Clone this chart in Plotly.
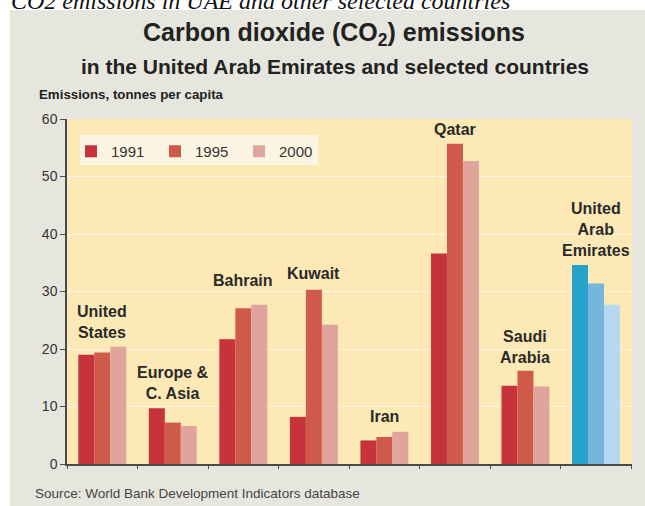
import plotly.graph_objects as go

countries = ["United<br>States", "Europe &<br>C. Asia", "Bahrain", "Kuwait",
             "Iran", "Qatar", "Saudi<br>Arabia", "United<br>Arab<br>Emirates"]
years = ["1991", "1995", "2000"]
em_1991 = [19.0, 9.7, 21.7, 8.2, 4.1, 36.6, 13.6, 34.6]
em_1995 = [19.4, 7.2, 27.1, 30.3, 4.7, 55.7, 16.2, 31.4]
em_2000 = [20.4, 6.6, 27.7, 24.2, 5.6, 52.7, 13.5, 27.7]
y_ticks = [0, 10, 20, 30, 40, 50, 60]

# red shades for every country, blue shades for the UAE
reds = ["#c6333a", "#cf5a4b", "#dfa59d"]
blues = ["#26a3cb", "#76b5dc", "#b5d9f0"]
label_lift = [6, 6, 16, 8, 7, 6, 5, 6]

W, H = 645, 506
L, R, T, B = 67, 13, 119, 42
pw, ph = W - L - R, H - T - B


def px(x):
    return (x - L) / pw


def py(y):
    return (H - B - y) / ph


fig = go.Figure()
for i, (yr, vals) in enumerate(zip(years, [em_1991, em_1995, em_2000])):
    cols = [reds[i]] * (len(countries) - 1) + [blues[i]]
    fig.add_trace(go.Bar(x=countries, y=vals, name=yr,
                         marker=dict(color=cols, line=dict(width=0))))

anns = []
for c, a, b, d, lift in zip(countries, em_1991, em_1995, em_2000, label_lift):
    anns.append(dict(x=c, y=max(a, b, d), xref="x", yref="y",
                     text="<b>" + c.replace("<br>", "</b><br><b>") + "</b>",
                     showarrow=False, yanchor="bottom", yshift=lift - 2,
                     font=dict(family="Liberation Sans, Arial", size=16, color="#2a2a2a")))

anns += [
    dict(x=px(9), y=py(1), xref="paper", yref="paper", xanchor="left", yanchor="middle",
         text="<i>CO2 emissions in UAE and other selected countries</i>", showarrow=False,
         font=dict(family="Liberation Serif, Times New Roman", size=24, color="#111")),
    dict(x=px(334), y=py(34), xref="paper", yref="paper", xanchor="center", yanchor="middle",
         text="<b>Carbon dioxide (CO<sub>2</sub>) emissions</b>", showarrow=False,
         font=dict(family="Liberation Sans, Arial", size=25, color="#222")),
    dict(x=px(335), y=py(66), xref="paper", yref="paper", xanchor="center", yanchor="middle",
         text="<b>in the United Arab Emirates and selected countries</b>", showarrow=False,
         font=dict(family="Liberation Sans, Arial", size=21, color="#222")),
    dict(x=px(37), y=py(95), xref="paper", yref="paper", xanchor="left", yanchor="middle",
         text="<b>Emissions, tonnes per capita</b>", showarrow=False,
         font=dict(family="Liberation Sans, Arial", size=13.3, color="#222")),
    dict(x=px(33), y=py(493), xref="paper", yref="paper", xanchor="left", yanchor="middle",
         text="Source: World Bank Development Indicators database", showarrow=False,
         font=dict(family="Liberation Sans, Arial", size=13.5, color="#444")),
]

shapes = [
    dict(type="rect", xref="paper", yref="paper", x0=px(0), x1=px(W), y0=py(0), y1=py(10),
         fillcolor="white", line=dict(width=0), layer="below"),
    dict(type="rect", xref="paper", yref="paper", x0=px(0), x1=px(10), y0=py(0), y1=py(H),
         fillcolor="white", line=dict(width=0), layer="below"),
    # legend box
    dict(type="rect", xref="paper", yref="paper", x0=px(80), x1=px(318), y0=py(135), y1=py(165),
         fillcolor="#fdf5e3", line=dict(width=0), layer="below"),
]

fig.update_layout(
    width=W, height=H, margin=dict(l=L, r=R, t=T, b=B),
    paper_bgcolor="#e7e6de", plot_bgcolor="#fce9b5",
    barmode="group", bargap=0.32, bargroupgap=0,
    font=dict(family="Liberation Sans, Arial", color="#333"),
    legend=dict(orientation="h", x=px(71), y=py(135), xanchor="left", yanchor="top",
                bgcolor="rgba(0,0,0,0)", borderwidth=0, entrywidth=39, entrywidthmode="pixels",
                font=dict(size=15, color="#333"), traceorder="normal"),
    annotations=anns, shapes=shapes,
)
fig.update_xaxes(showticklabels=False, showline=True, linecolor="#4a4a4a", linewidth=1.5,
                 ticks="outside", ticklen=3, tickcolor="#4a4a4a", tickson="boundaries",
                 showgrid=False)
fig.update_yaxes(range=[0, 60], tickvals=y_ticks, showline=True, linecolor="#4a4a4a",
                 linewidth=1.5, ticks="outside", ticklen=5, tickcolor="#4a4a4a",
                 gridcolor="#fff4da", gridwidth=1, zeroline=False,
                 tickfont=dict(size=14, color="#333"))

fig.write_html("out.html", config={"displayModeBar": False},
               post_script="document.body.style.margin='0';")
